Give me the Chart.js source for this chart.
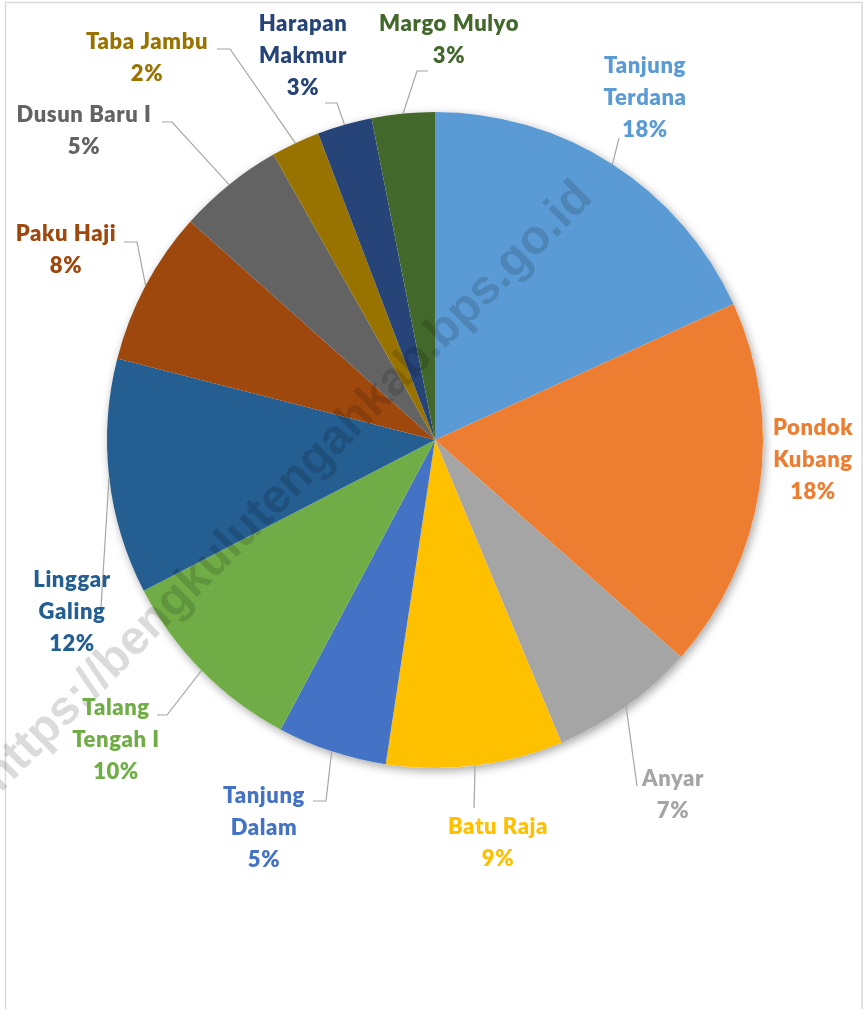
<!DOCTYPE html>
<html>
<head>
<meta charset="utf-8">
<script src="https://cdn.jsdelivr.net/npm/chart.js"></script>
<style>
  html, body { margin: 0; padding: 0; background: #fff; }
  canvas { display: block; }
</style>
</head>
<body>
<canvas id="pieDesa" width="863" height="1009"></canvas>
<script>
// villages, clockwise from 12 o'clock
var desa = [
  'Tanjung Terdana', 'Pondok Kubang', 'Anyar', 'Batu Raja', 'Tanjung Dalam',
  'Talang Tengah I', 'Linggar Galing', 'Paku Haji', 'Dusun Baru I',
  'Taba Jambu', 'Harapan Makmur', 'Margo Mulyo'
];

// share of each village (%)
var persen = [18.2, 18.3, 7.2, 8.7, 5.4, 9.6, 11.6, 7.6, 5.2, 2.4, 2.7, 3.1];

var warna = [
  '#5B9BD5', '#ED7D31', '#A5A5A5', '#FFC000', '#4472C4', '#70AD47',
  '#255E91', '#9E480E', '#636363', '#997300', '#264478', '#43682B'
];

// label placement relative to the pie centre: text block (first line) and leader line points
var posLabel = [
  { tx: 210, ty: -374, wrap: true,  line: [[184, -302]] },
  { tx: 378, ty: -12,  wrap: true,  line: [] },
  { tx: 238, ty: 339,  wrap: false, line: [[202, 346]] },
  { tx: 63,  ty: 387,  wrap: false, line: [[39, 368]] },
  { tx: -171, ty: 356, wrap: true,  line: [[-109, 361], [-122, 361]] },
  { tx: -319, ty: 268, wrap: true,  line: [[-268, 275], [-278, 275]] },
  { tx: -363, ty: 140, wrap: true,  line: [[-334, 167]] },
  { tx: -369, ty: -206, wrap: false, line: [[-298, -198], [-311, -198]] },
  { tx: -351, ty: -325, wrap: false, line: [[-263, -318], [-273, -318]] },
  { tx: -288, ty: -398, wrap: false, line: [[-205, -391], [-218, -391]] },
  { tx: -132, ty: -416, wrap: true,  line: [[-98, -337], [-110, -337]] },
  { tx: 14,  ty: -416, wrap: false, line: [[-18, -369], [-7, -369]] }
];

var watermark = 'https://bengkulutengahkab.bps.go.id';

// frame + soft shadow under the pie
var latarPlugin = {
  id: 'latar',
  beforeDraw: function(chart) {
    var ctx = chart.ctx;
    ctx.save();
    ctx.strokeStyle = '#D9D9D9';
    ctx.lineWidth = 1.5;
    ctx.strokeRect(5.5, 2.5, 856.5, 1100);
    ctx.restore();
  },
  beforeDatasetsDraw: function(chart) {
    var arc = chart.getDatasetMeta(0).data[0];
    var ctx = chart.ctx;
    ctx.save();
    ctx.shadowColor = 'rgba(0,0,0,0.35)';
    ctx.shadowBlur = 10;
    ctx.shadowOffsetX = 2;
    ctx.shadowOffsetY = 3;
    ctx.fillStyle = '#fff';
    ctx.beginPath();
    ctx.arc(arc.x, arc.y, arc.outerRadius, 0, Math.PI * 2);
    ctx.fill();
    ctx.restore();
  }
};

// watermark over the pie, then the data labels with leader lines
var labelPlugin = {
  id: 'labelDesa',
  afterDatasetsDraw: function(chart) {
    var ctx = chart.ctx;
    var meta = chart.getDatasetMeta(0);
    var total = persen.reduce(function(a, b) { return a + b; }, 0);

    ctx.save();
    ctx.translate(288, 487);
    ctx.rotate(-45 * Math.PI / 180);
    ctx.font = 'bold 48px "Liberation Sans", Arial, sans-serif';
    ctx.fillStyle = 'rgba(0,0,0,0.14)';
    ctx.textAlign = 'center';
    ctx.textBaseline = 'middle';
    ctx.fillText(watermark, 0, 0);
    ctx.restore();

    meta.data.forEach(function(arc, i) {
      var p = posLabel[i];
      var cx = arc.x, cy = arc.y;
      var mid = (arc.startAngle + arc.endAngle) / 2;
      var sx = cx + Math.cos(mid) * arc.outerRadius;
      var sy = cy + Math.sin(mid) * arc.outerRadius;

      if (p.line.length) {
        ctx.save();
        ctx.strokeStyle = '#A6A6A6';
        ctx.lineWidth = 1.2;
        ctx.beginPath();
        ctx.moveTo(sx, sy);
        p.line.forEach(function(pt) { ctx.lineTo(cx + pt[0], cy + pt[1]); });
        ctx.stroke();
        ctx.restore();
      }

      var nama = desa[i];
      var baris = [];
      if (p.wrap) {
        var k = nama.indexOf(' ');
        baris.push(nama.slice(0, k), nama.slice(k + 1));
      } else {
        baris.push(nama);
      }
      baris.push(Math.round(persen[i] / total * 100) + '%');

      ctx.save();
      ctx.font = '800 22px Lato, "Open Sans", sans-serif';
      ctx.letterSpacing = '0.6px';
      ctx.fillStyle = warna[i];
      ctx.textAlign = 'center';
      ctx.textBaseline = 'middle';
      baris.forEach(function(t, j) {
        ctx.fillText(t, cx + p.tx, cy + p.ty + j * 32);
      });
      ctx.restore();
    });
  }
};

var pieDesa = document.getElementById('pieDesa').getContext('2d');
var chartPieDesa = new Chart(pieDesa, {
  type: 'pie',
  data: {
    labels: desa,
    datasets: [{
      data: persen,
      backgroundColor: warna,
      borderWidth: 0,
      hoverBorderWidth: 0,
      hoverOffset: 0
    }]
  },
  options: {
    responsive: false,
    animation: false,
    layout: { padding: { left: 107, right: 100, top: 112, bottom: 241 } },
    plugins: {
      legend: { display: false },
      tooltip: { enabled: false }
    }
  },
  plugins: [latarPlugin, labelPlugin]
});
</script>
</body>
</html>
